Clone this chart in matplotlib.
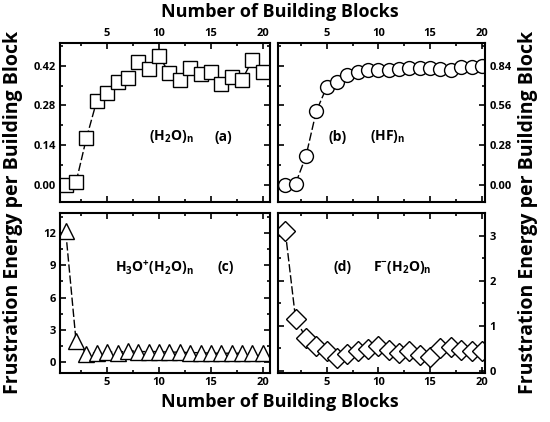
import numpy as np
import matplotlib
matplotlib.use("Agg")
import matplotlib.pyplot as plt
from matplotlib.ticker import MultipleLocator

plt.rcParams['font.family'] = ['Open Sans', 'DejaVu Sans']
plt.rcParams['font.weight'] = 'bold'
plt.rcParams['mathtext.fontset'] = 'custom'
plt.rcParams['mathtext.rm'] = 'Open Sans:bold'
plt.rcParams['mathtext.default'] = 'rm'

# number of building blocks
n = np.arange(1, 21)

# frustration energy per building block
h2o = [0.00, 0.01, 0.165, 0.297, 0.325, 0.364, 0.376, 0.434, 0.407, 0.454,
       0.393, 0.370, 0.411, 0.391, 0.397, 0.355, 0.381, 0.370, 0.440, 0.399]
hf = [0.00, 0.01, 0.203, 0.520, 0.688, 0.728, 0.777, 0.798, 0.810, 0.810,
      0.812, 0.817, 0.824, 0.824, 0.824, 0.820, 0.810, 0.828, 0.828, 0.840]
h3o = [12.2, 1.9, 0.75, 0.85, 0.95, 0.85, 1.05, 0.95, 0.95, 0.95,
       0.9, 0.9, 0.85, 0.85, 0.8, 0.8, 0.8, 0.8, 0.8, 0.8]
fminus = [3.10, 1.15, 0.73, 0.56, 0.43, 0.28, 0.37, 0.44, 0.49, 0.54,
          0.45, 0.39, 0.44, 0.36, 0.30, 0.50, 0.52, 0.45, 0.43, 0.43]

fig = plt.figure(figsize=(5.5, 4.22), dpi=100)
W, H = 550, 422


def box(x0, x1, y0, y1):
    return [x0 / W, 1 - y1 / H, (x1 - x0) / W, (y1 - y0) / H]


ax_a = fig.add_axes(box(60, 270, 43, 202))
ax_b = fig.add_axes(box(278, 485, 43, 202))
ax_c = fig.add_axes(box(60, 270, 213, 373))
ax_d = fig.add_axes(box(278, 485, 213, 373))

panels = [
    (ax_a, h2o, 's', 9.5, (0.45, 20.7), (-0.06, 0.50), 0.14, 0.07, 'top', 'left'),
    (ax_b, hf, 'o', 10, (0.3, 20.3), (-0.12, 1.0), 0.28, 0.14, 'top', 'right'),
    (ax_c, h3o, '^', 12, (0.45, 20.7), (-1.05, 13.9), 3, 1.5, 'bottom', 'left'),
    (ax_d, fminus, 'D', 10, (0.3, 20.3), (-0.05, 3.5), 1, 0.5, 'bottom', 'right'),
]

for ax, y, m, ms, xl, yl, ymaj, ymin, xside, yside in panels:
    ax.plot(n, y, color='black', lw=1, dashes=(6, 2), marker=m, ms=ms,
            mfc='white', mec='black', mew=1)
    ax.set_xlim(*xl)
    ax.set_ylim(*yl)
    ax.xaxis.set_major_locator(MultipleLocator(5))
    ax.xaxis.set_minor_locator(MultipleLocator(2.5))
    ax.yaxis.set_major_locator(MultipleLocator(ymaj))
    ax.yaxis.set_minor_locator(MultipleLocator(ymin))
    ax.tick_params(which='both', direction='in', top=True, bottom=True,
                   left=True, right=True, width=1.2, labelsize=8, pad=3,
                   labeltop=(xside == 'top'), labelbottom=(xside == 'bottom'),
                   labelleft=(yside == 'left'), labelright=(yside == 'right'))
    ax.tick_params(which='major', length=4)
    ax.tick_params(which='minor', length=2.5)
    for s in ax.spines.values():
        s.set_linewidth(1.5)

ax_a.yaxis.set_major_formatter(matplotlib.ticker.FormatStrFormatter('%.2f'))
ax_b.yaxis.set_major_formatter(matplotlib.ticker.FormatStrFormatter('%.2f'))

tk = dict(fontsize=10, fontweight='bold', ha='center', va='center')
ax_a.text(0.53, 0.41, r'(H$_2$O)$_n$', transform=ax_a.transAxes, **tk)
ax_a.text(0.78, 0.41, '(a)', transform=ax_a.transAxes, **tk)
ax_b.text(0.29, 0.41, '(b)', transform=ax_b.transAxes, **tk)
ax_b.text(0.53, 0.41, r'(HF)$_n$', transform=ax_b.transAxes, **tk)
ax_c.text(0.45, 0.66, r'H$_3$O$^{+}$(H$_2$O)$_n$', transform=ax_c.transAxes, **tk)
ax_c.text(0.79, 0.66, '(c)', transform=ax_c.transAxes, **tk)
ax_d.text(0.31, 0.66, '(d)', transform=ax_d.transAxes, **tk)
ax_d.text(0.60, 0.66, r'F$^{-}$(H$_2$O)$_n$', transform=ax_d.transAxes, **tk)

lab = dict(fontweight='bold', ha='center', va='center')
fig.text(280 / W, 1 - 12 / H, 'Number of Building Blocks', fontsize=13, **lab)
fig.text(280 / W, 1 - 402 / H, 'Number of Building Blocks', fontsize=13, **lab)
fig.text(13 / W, 1 - 212 / H, 'Frustration Energy per Building Block',
         rotation=90, fontsize=14, **lab)
fig.text(528 / W, 1 - 212 / H, 'Frustration Energy per Building Block',
         rotation=90, fontsize=14, **lab)

fig.savefig('out.png', dpi=100)
